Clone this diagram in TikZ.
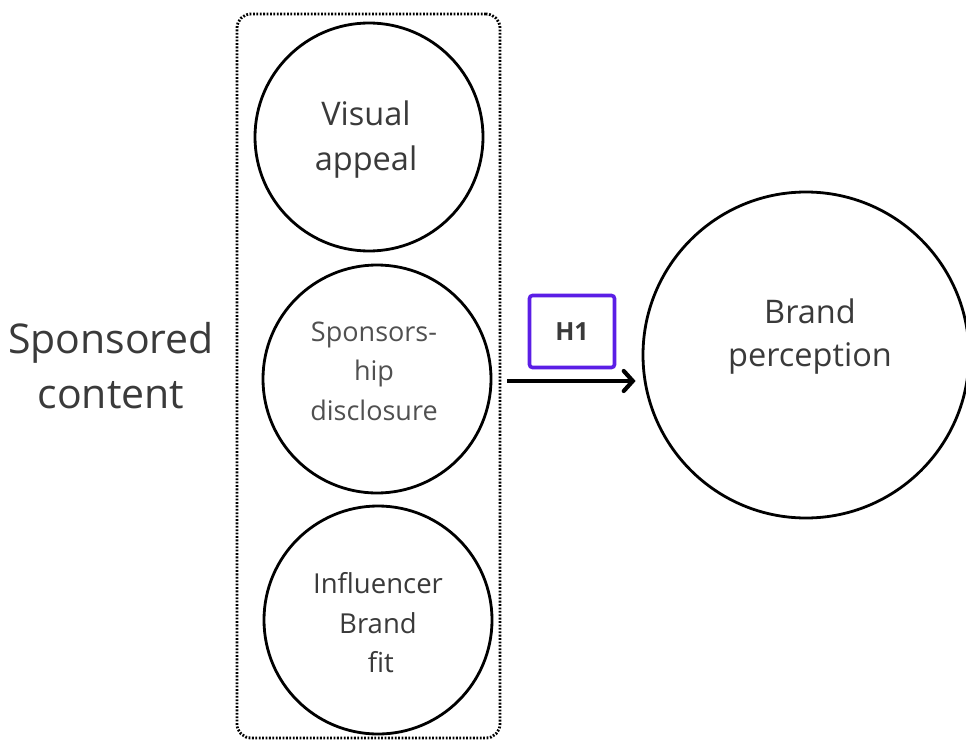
\documentclass[tikz,border=0pt]{standalone}
\usepackage{fontspec}
\setmainfont{Open Sans}
\usetikzlibrary{arrows.meta}
\definecolor{txt}{HTML}{3A3A3A}
\definecolor{txtlight}{HTML}{505050}
\definecolor{hpurple}{HTML}{5B1EE6}
\begin{document}
\begin{tikzpicture}[x=1pt,y=-1pt,
  construct/.style={circle,draw=black,line width=2.8pt,inner sep=0pt,minimum size=#1},
  lbl/.style={text=txt,align=center,inner sep=0pt},
  hyp/.style={draw=hpurple,line width=3.6pt,rounded corners=3pt,minimum width=85pt,minimum height=72pt,inner sep=0pt},
  arr/.style={line width=4.2pt,-{Straight Barb[length=9pt,width=20pt,line cap=round]}}]
\useasboundingbox[fill=white] (0,0) rectangle (966,741);

% group frame around the three dimensions
\node[draw=black,line width=2.8pt,dash pattern=on 1.8pt off 1.6pt,rounded corners=14pt,
      minimum width=263pt,minimum height=724pt,inner sep=0pt] (box) at (368.5,376) {};

% construct circles
\node[construct=228pt] (va) at (369,137) {};
\node[construct=228pt] (sd) at (377,379) {};
\node[construct=228pt] (bf) at (378,620) {};
\node[construct=326pt] (bp) at (806,355) {};

% texts
\node[lbl,font=\fontsize{41}{55}\selectfont] (sc) at (111,366) {Sponsored\\content};
\node[lbl,font=\fontsize{32.5}{45}\selectfont] (tva) at (366,140) {Visual\\appeal};
\node[lbl,text=txtlight,font=\fontsize{27}{39.5}\selectfont] (tsd) at (374,371) {Sponsors-\\hip\\disclosure};
\node[lbl,font=\fontsize{27.5}{39.5}\selectfont] (tbf) at (378,623) {Influencer\\Brand\\\hspace*{0.2em}fit};
\node[lbl,font=\fontsize{32.5}{43}\selectfont] (tbp) at (810,337) {Brand\\perception};

% hypothesis label and path
\node[hyp] (h1) at (572,331.5) {};
\node[text=txt,font=\bfseries\fontsize{25}{28}\selectfont] (th1) at (572,331.5) {H1};
\coordinate (a1) at ([xshift=15pt]sd.east |- 0,381);
\coordinate (a2) at ([xshift=-6pt]bp.west |- 0,381);
\draw[arr] (a1) -- (a2);
\end{tikzpicture}
\end{document}
